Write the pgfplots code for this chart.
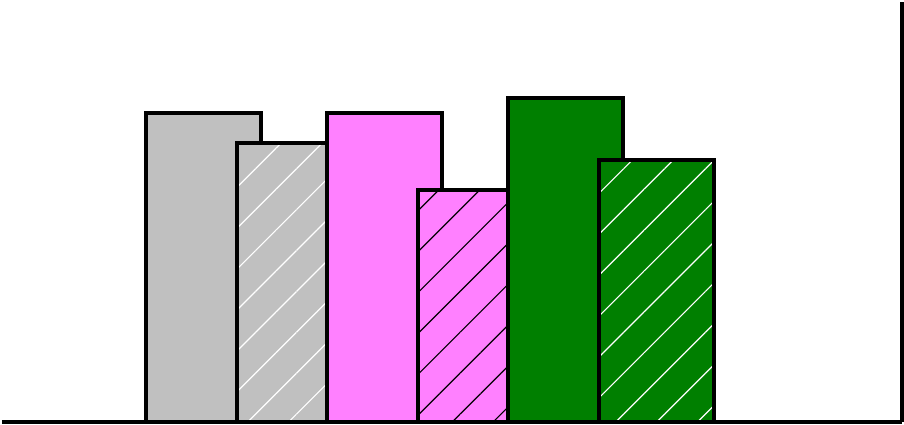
\documentclass[border=0pt]{standalone}
\usepackage{pgfplots}
\pgfplotsset{compat=1.18}
\usetikzlibrary{patterns.meta}

\definecolor{barGray}{HTML}{C0C0C0}
\definecolor{barPink}{HTML}{FF80FF}
\definecolor{barGreen}{HTML}{007F00}

\tikzset{
  hatch/.style={postaction={pattern={Lines[angle=45,distance=14.5pt,line width=0.6pt]},pattern color=#1}}
}

\begin{document}
\begin{tikzpicture}
\begin{axis}[
    scale only axis,
    width=451.25pt, height=210.75pt,
    xmin=-1.22, xmax=8.709,
    ymin=0, ymax=100,
    axis x line*=bottom,
    axis y line*=right,
    axis line style={line width=2pt},
    ticks=none,
    every axis plot/.append style={ybar, bar shift=0pt, bar width=1.265, line width=2pt, draw=black},
]
    \addplot[fill=barGray] coordinates {(1,73.7)};
    \addplot[fill=barGray, hatch=white] coordinates {(2,66.4)};
    \addplot[fill=barPink] coordinates {(3,73.7)};
    \addplot[fill=barPink, hatch=black] coordinates {(4,55.2)};
    \addplot[fill=barGreen] coordinates {(5,77.2)};
    \addplot[fill=barGreen, hatch=white] coordinates {(6,62.5)};
\end{axis}
\end{tikzpicture}
\end{document}
